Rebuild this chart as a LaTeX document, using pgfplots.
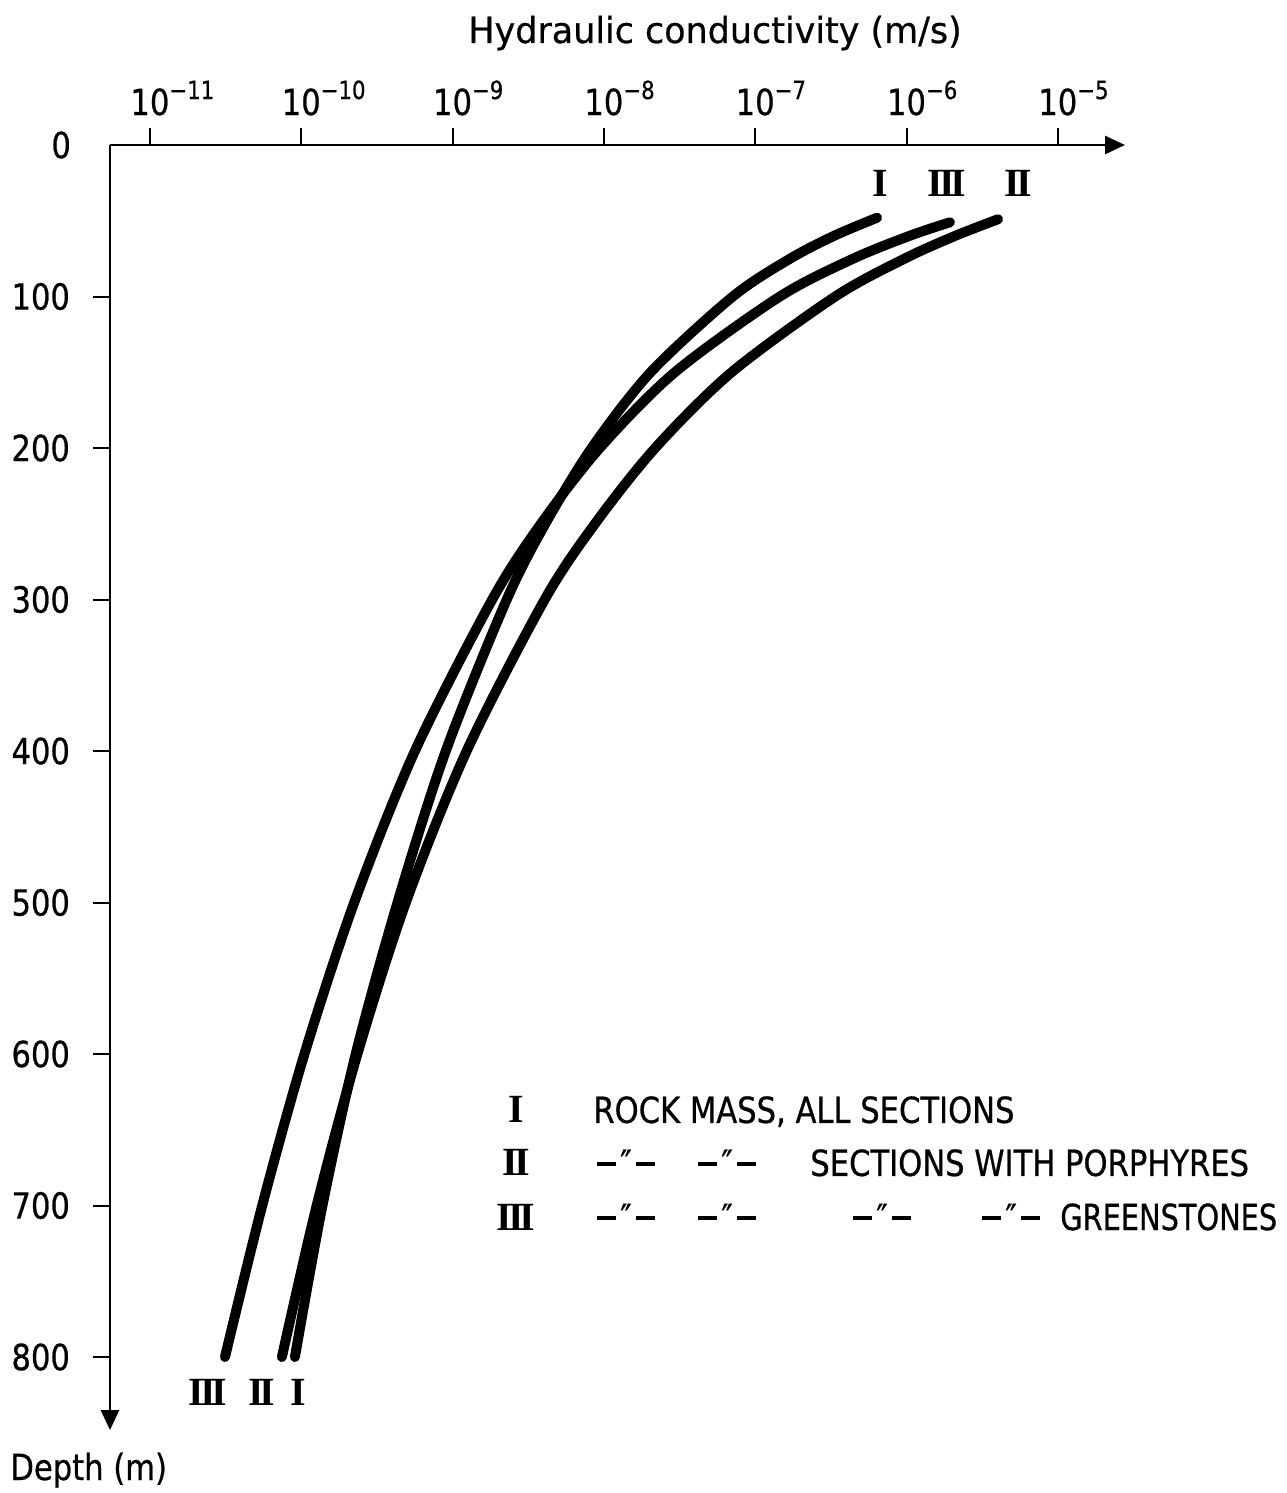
\documentclass[border=0pt]{standalone}
\usepackage{fontspec}
\setmainfont[FakeStretch=0.85, FakeBold=0.6]{DejaVu Sans}
\newfontfamily\numeralfont{Liberation Serif}
\usepackage{pgfplots}
\usepackage{pgfplotstable}
\pgfplotsset{compat=1.18}
\usetikzlibrary{arrows.meta}

% lettering
\newcommand\lab{\fontsize{18}{21}\selectfont}
\newcommand\wide{\addfontfeature{FakeStretch=0.97}}
\newcommand\narrow{\addfontfeature{FakeStretch=0.8}}
\newcommand\ex[1]{10\rlap{\raisebox{8pt}{\fontsize{12.5}{12.5}\selectfont −#1}}}
\newcommand\rI{{\numeralfont\bfseries\fontsize{20}{22}\selectfont I}}
\newcommand\rII{{\numeralfont\bfseries\fontsize{20}{22}\selectfont I\kern-2pt I}}
\newcommand\rIII{{\numeralfont\bfseries\fontsize{20}{22}\selectfont I\kern-2pt I\kern-2pt I}}
\newcommand\dash{\rule[5pt]{9.5pt}{1.8pt}}
\newcommand\ditto{\dash\kern2pt″\kern2pt\dash}

% log10 of hydraulic conductivity (m/s) against depth (m)
\pgfplotstableread{
logK depth
-6.195 48
-6.480 60
-6.769 75
-7.148 100
-7.691 150
-8.081 200
-8.387 250
-8.642 300
-9.045 400
-9.364 500
-9.640 600
-9.860 700
-10.042 800
}\curveI

\pgfplotstableread{
logK depth
-5.395 49
-5.679 60
-6.013 75
-6.471 100
-7.156 150
-7.661 200
-8.059 250
-8.391 300
-8.907 400
-9.309 500
-9.629 600
-9.898 700
-10.128 800
}\curveII

\pgfplotstableread{
logK depth
-5.713 51
-5.981 60
-6.352 75
-6.837 100
-7.531 150
-8.027 200
-8.416 250
-8.738 300
-9.249 400
-9.650 500
-9.979 600
-10.258 700
-10.504 800
}\curveIII

\begin{document}
\begin{tikzpicture}
\useasboundingbox (-55pt,72.5pt) rectangle (588pt,-674pt);
\begin{axis}[
  at={(0pt,0pt)}, anchor=north west,
  scale only axis, width=507.5pt, height=642.5pt,
  xmin=-11.264, xmax=-4.556, ymin=0, ymax=848.2,
  y dir=reverse,
  axis x line=top, axis y line=left,
  axis line style={line width=1.4pt},
  every outer x axis line/.append style={-{Triangle[length=10pt,width=9pt]}},
  every outer y axis line/.append style={-{Triangle[length=10pt,width=9pt]}},
  tick align=outside, major tick length=8.5pt,
  every tick/.style={black, line width=1pt},
  xtick={-11,-10,-9,-8,-7,-6,-5},
  xticklabels={\ex{11},\ex{10},\ex{9},\ex{8},\ex{7},\ex{6},\ex{5}},
  ytick={100,200,300,400,500,600,700,800},
  yticklabels={100,200,300,400,500,600,700,800},
  ticklabel style={font=\lab},
  xticklabel style={anchor=base, yshift=6.5pt},
  yticklabel style={xshift=-8pt},
  clip=false,
]
\addplot[black, line width=5pt, line cap=round, smooth, tension=0.5] table[x=logK, y=depth] {\curveI};
\addplot[black, line width=5pt, line cap=round, smooth, tension=0.5] table[x=logK, y=depth] {\curveII};
\addplot[black, line width=5pt, line cap=round, smooth, tension=0.5] table[x=logK, y=depth] {\curveIII};

% curve identifiers at both ends
\node[anchor=base] at (axis cs:-6.175,33.7) {\rI};
\node[anchor=base] at (axis cs:-5.732,33.7) {\rIII};
\node[anchor=base] at (axis cs:-5.263,33.7) {\rII};
\node[anchor=base] at (axis cs:-10.617,831.7) {\rIII};
\node[anchor=base] at (axis cs:-10.260,831.7) {\rII};
\node[anchor=base] at (axis cs:-10.022,831.7) {\rI};

% key
\node[anchor=base] at (axis cs:-8.58,645.5) {\rI};
\node[anchor=base] at (axis cs:-8.58,680.5) {\rII};
\node[anchor=base] at (axis cs:-8.58,716.2) {\rIII};
\node[anchor=base west,inner sep=0pt,font=\lab] at (axis cs:-8.072,645.5) {ROCK MASS, ALL SECTIONS};
\node[anchor=base,font=\lab] at (axis cs:-7.854,680.5) {\ditto};
\node[anchor=base,font=\lab] at (axis cs:-7.186,680.5) {\ditto};
\node[anchor=base west,inner sep=0pt,font=\lab] at (axis cs:-6.638,680.5) {SECTIONS WITH PORPHYRES};
\node[anchor=base,font=\lab] at (axis cs:-7.854,716.2) {\ditto};
\node[anchor=base,font=\lab] at (axis cs:-7.186,716.2) {\ditto};
\node[anchor=base,font=\lab] at (axis cs:-6.162,716.2) {\ditto};
\node[anchor=base,font=\lab] at (axis cs:-5.309,716.2) {\ditto};
\node[anchor=base west,inner sep=0pt,font=\lab\narrow] at (axis cs:-4.986,716.2) {GREENSTONES};

% zero of the depth scale
\node[anchor=east,font=\lab] at (axis cs:-11.264,0) [xshift=-16pt] {0};
\end{axis}
\node[anchor=base,font=\lab\wide] at (302.5pt,51pt) {Hydraulic conductivity (m/s)};
\node[anchor=base west,inner sep=0pt,font=\lab] at (-50pt,-667.5pt) {Depth (m)};
\end{tikzpicture}
\end{document}
